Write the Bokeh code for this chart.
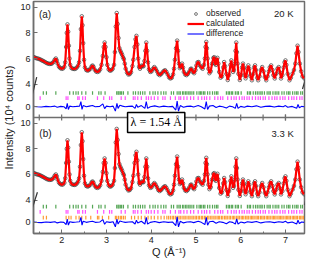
from bokeh.plotting import figure
from bokeh.models import Range1d, FixedTicker, Span, Label, Legend, LegendItem, Arrow
from bokeh.embed import file_html
from bokeh.resources import INLINE

# ---------------- data ----------------
# powder pattern: Q (1/A) and intensity (10^4 counts)
q_obs = [1.37, 1.40, 1.43, 1.46, 1.49, 1.52, 1.55, 1.58, 1.61, 1.64, 1.67, 1.70, 1.73, 1.76, 1.79, 1.82,
         1.845, 1.87, 1.89, 1.91, 1.94, 1.97, 2.00, 2.03, 2.06, 2.08, 2.10, 2.115, 2.13, 2.145, 2.16, 2.175,
         2.19, 2.22, 2.25, 2.28, 2.31, 2.34, 2.37, 2.39, 2.41, 2.43, 2.45, 2.465, 2.48, 2.50, 2.52, 2.55,
         2.58, 2.61, 2.64, 2.67, 2.69, 2.71, 2.74, 2.77, 2.80, 2.83, 2.86, 2.89, 2.92, 2.94, 2.96, 2.98,
         3.00, 3.02, 3.05, 3.08, 3.11, 3.14, 3.17, 3.19, 3.21, 3.23, 3.25, 3.27, 3.29, 3.31, 3.33, 3.35,
         3.37, 3.39, 3.41, 3.43, 3.46, 3.49, 3.52, 3.55, 3.58, 3.60, 3.63, 3.65, 3.67, 3.69, 3.71, 3.73,
         3.75, 3.77, 3.79, 3.81, 3.83, 3.85, 3.87, 3.89, 3.91, 3.93, 3.95, 3.98, 4.01, 4.04, 4.07, 4.10,
         4.13, 4.16, 4.19, 4.22, 4.25, 4.28, 4.31, 4.34, 4.37, 4.40, 4.43, 4.46, 4.49, 4.51, 4.53, 4.555,
         4.58, 4.60, 4.62, 4.64, 4.66, 4.69, 4.71, 4.73, 4.76, 4.79, 4.82, 4.85, 4.88, 4.90, 4.93, 4.96,
         4.99, 5.01, 5.035, 5.06, 5.09, 5.12, 5.15, 5.18, 5.20, 5.215, 5.23, 5.245, 5.26, 5.28, 5.30, 5.33,
         5.36, 5.39, 5.41, 5.43, 5.445, 5.465, 5.48, 5.50, 5.52, 5.55, 5.58, 5.61, 5.63, 5.65, 5.68, 5.71,
         5.74, 5.77, 5.79, 5.81, 5.83, 5.85, 5.87, 5.885, 5.90, 5.915, 5.93, 5.95, 5.98, 6.01, 6.03, 6.05,
         6.07, 6.09, 6.11, 6.13, 6.15, 6.17, 6.19, 6.22, 6.25, 6.28, 6.30, 6.32, 6.34, 6.37, 6.39, 6.42,
         6.45, 6.48, 6.51, 6.54, 6.57, 6.60, 6.63, 6.65, 6.68, 6.71, 6.73, 6.76, 6.79, 6.82, 6.85, 6.88,
         6.90, 6.93, 6.96, 6.98, 7.00, 7.02, 7.05, 7.09, 7.12, 7.16, 7.19, 7.22, 7.245, 7.27, 7.29, 7.32,
         7.35, 7.38, 7.42]
i_obs = [6.12, 6.08, 6.03, 6.00, 5.97, 5.93, 5.87, 5.82, 5.76, 5.70, 5.64, 5.60, 5.58, 5.58, 5.63, 5.74,
         5.90, 6.00, 5.85, 5.60, 5.36, 5.25, 5.20, 5.22, 5.35, 5.70, 6.90, 8.00, 8.67, 8.10, 7.00, 6.00,
         5.50, 5.25, 5.20, 5.18, 5.20, 5.30, 5.45, 5.70, 6.60, 8.30, 9.30, 8.60, 7.20, 5.90, 5.30, 5.10,
         5.05, 5.10, 5.20, 5.38, 5.45, 5.35, 5.12, 4.98, 4.95, 5.00, 5.15, 5.50, 6.20, 6.90, 7.25, 6.90,
         6.10, 5.50, 5.15, 5.05, 5.08, 5.20, 5.50, 6.50, 8.50, 9.56, 8.70, 7.60, 6.80, 6.60, 6.45, 6.30,
         6.10, 5.95, 5.60, 5.20, 4.90, 4.75, 4.78, 4.92, 5.40, 5.90, 6.90, 7.50, 7.77, 7.10, 6.00, 5.35,
         5.20, 5.35, 5.45, 5.40, 5.40, 5.80, 6.60, 7.25, 6.60, 5.70, 5.15, 4.95, 5.00, 5.20, 5.33, 5.20,
         5.00, 4.78, 4.70, 4.78, 4.90, 5.02, 5.08, 4.95, 4.75, 4.52, 4.44, 4.50, 4.75, 5.20, 5.90, 6.80,
         7.40, 6.60, 5.60, 5.25, 5.35, 5.60, 5.30, 4.95, 4.75, 4.70, 4.80, 4.97, 5.18, 5.20, 4.95, 4.85,
         5.10, 5.45, 5.70, 5.72, 5.45, 5.30, 5.20, 5.50, 6.00, 6.90, 7.30, 6.80, 6.00, 5.20, 4.85, 5.00,
         5.60, 6.05, 6.10, 5.60, 5.50, 5.90, 6.05, 5.60, 4.95, 4.50, 4.60, 5.30, 5.72, 5.40, 4.80, 4.32,
         4.70, 5.50, 5.85, 5.40, 4.95, 5.10, 5.60, 6.60, 7.25, 6.50, 5.60, 4.80, 4.32, 4.70, 5.30, 5.60,
         5.30, 4.70, 4.45, 4.70, 5.20, 5.46, 5.20, 4.60, 4.30, 4.80, 5.30, 5.46, 5.10, 4.50, 4.30, 4.60,
         5.10, 5.33, 5.00, 4.55, 4.30, 4.60, 5.00, 5.30, 5.46, 5.10, 4.70, 4.44, 4.80, 5.20, 5.33, 4.90,
         4.44, 4.70, 5.30, 5.70, 5.85, 5.50, 4.80, 4.30, 4.50, 4.82, 5.10, 5.60, 6.40, 7.00, 6.50, 5.60,
         5.00, 4.60, 4.45]

# difference curve (obs - calc), 10^4 counts
q_diff = [1.37, 1.45, 1.55, 1.65, 1.75, 1.85, 1.90, 1.98, 2.05, 2.10, 2.125, 2.15, 2.18, 2.25, 2.33, 2.40,
          2.43, 2.455, 2.48, 2.55, 2.62, 2.69, 2.75, 2.85, 2.92, 2.96, 3.00, 3.08, 3.15, 3.20, 3.235, 3.26,
          3.30, 3.36, 3.42, 3.50, 3.58, 3.64, 3.67, 3.70, 3.78, 3.86, 3.89, 3.92, 3.98, 4.08, 4.18, 4.28,
          4.38, 4.48, 4.55, 4.58, 4.61, 4.65, 4.72, 4.80, 4.88, 4.95, 5.05, 5.12, 5.20, 5.23, 5.26, 5.30,
          5.38, 5.45, 5.52, 5.60, 5.68, 5.75, 5.82, 5.88, 5.91, 5.94, 6.00, 6.08, 6.15, 6.25, 6.35, 6.45,
          6.55, 6.65, 6.75, 6.85, 6.95, 7.00, 7.05, 7.15, 7.25, 7.28, 7.31, 7.36, 7.42]
v_diff = [0.05, 0.00, -0.05, 0.05, 0.00, 0.10, -0.10, 0.05, 0.00, -0.40, 0.60, -0.50, 0.10, 0.00, 0.05, 0.10,
          0.90, -0.50, 0.20, 0.00, 0.10, 0.20, 0.00, 0.05, 0.50, -0.35, 0.10, 0.00, 0.10, -0.80, 0.60, -0.30,
          0.25, 0.10, 0.00, 0.05, 0.10, -0.30, 0.40, -0.10, 0.20, -0.30, 0.90, -0.30, 0.00, 0.15, -0.05, 0.10,
          0.00, 0.05, -0.60, 1.00, -0.80, 0.20, -0.10, 0.05, 0.10, -0.05, 0.20, 0.00, -0.40, 0.90, -0.50, 0.10,
          0.20, -0.15, 0.10, 0.00, -0.25, 0.10, 0.00, -0.30, 0.60, -0.30, 0.05, -0.10, 0.10, 0.00, 0.15, -0.10,
          0.05, 0.10, -0.05, 0.10, 0.00, 0.20, -0.10, 0.05, -0.30, 0.40, -0.20, 0.05, 0.00]

# Bragg reflection positions (Q)
green_q = [1.59, 1.66, 1.87, 2.18, 2.26, 2.32, 2.37, 2.45, 2.54, 2.69, 2.83, 2.88, 2.97, 3.23, 3.26, 3.28,
           3.31, 3.34, 3.38, 3.48, 3.60, 3.65, 3.71, 3.76, 3.81, 3.86, 3.97, 4.04, 4.09, 4.15, 4.22, 4.28,
           4.33, 4.45, 4.50, 4.58, 4.62, 4.65, 4.70, 4.73, 4.77, 4.80, 4.84, 4.87, 4.91, 4.95, 5.02, 5.07,
           5.10, 5.13, 5.17, 5.20, 5.26, 5.31, 5.37, 5.42, 5.46, 5.49, 5.68, 5.72, 5.75, 5.79, 5.82, 5.88,
           5.92, 5.95, 6.01, 6.15, 6.19, 6.22, 6.28, 6.33, 6.37, 6.41, 6.45, 6.48, 6.53, 6.59, 6.63, 6.66,
           6.72, 6.77, 6.81, 6.85, 6.92, 6.97, 7.03, 7.07, 7.10, 7.16, 7.21, 7.25, 7.28, 7.34, 7.38]
magenta_q = [1.52, 2.10, 2.14, 2.36, 2.39, 2.47, 2.53, 2.80, 2.94, 3.07, 3.12, 3.33, 3.42, 3.60, 3.64, 3.70,
             3.78, 3.89, 3.94, 4.00, 4.07, 4.15, 4.26, 4.31, 4.43, 4.54, 4.62, 4.66, 4.73, 4.80, 4.88, 4.95,
             5.05, 5.13, 5.19, 5.24, 5.31, 5.42, 5.49, 5.55, 5.60, 5.71, 5.79, 5.85, 5.90, 5.97, 6.03, 6.08,
             6.14, 6.19, 6.26, 6.33, 6.39, 6.44, 6.50, 6.55, 6.63, 6.70, 6.76, 6.81, 6.88, 6.94, 6.99, 7.07,
             7.14, 7.19, 7.25, 7.32, 7.37]
orange_q = [1.59, 1.66, 2.10, 2.16, 2.21, 2.32, 2.39, 2.45, 2.54, 2.65, 2.80, 2.83, 2.91, 3.05, 3.20, 3.23,
            3.27, 3.31, 3.34, 3.38, 3.42, 3.56, 3.63, 3.71, 3.78, 3.86, 3.93, 4.00, 4.07, 4.15, 4.22, 4.29,
            4.35, 4.39, 4.43, 4.47, 4.50, 4.54, 4.58, 4.62, 4.65, 4.69, 4.73, 4.76, 4.80, 4.84, 4.87, 4.91,
            4.94, 4.98, 5.01, 5.05, 5.08, 5.12, 5.15, 5.19, 5.22, 5.26, 5.29, 5.33, 5.36, 5.40, 5.43, 5.47,
            5.50, 5.53, 5.57, 5.60, 5.64, 5.67, 5.70, 5.74, 5.77, 5.81, 5.84, 5.87, 5.91, 5.94, 5.97, 6.01,
            6.04, 6.07, 6.11, 6.14, 6.17, 6.21, 6.24, 6.27, 6.30, 6.34, 6.37, 6.40, 6.44, 6.47, 6.50, 6.53,
            6.57, 6.60, 6.63, 6.66, 6.70, 6.73, 6.76, 6.79, 6.83, 6.86, 6.89, 6.92, 6.95, 6.99, 7.02, 7.05,
            7.08, 7.11, 7.15, 7.18, 7.21, 7.24, 7.27, 7.31, 7.34, 7.37, 7.40]

x_ticks = [2, 3, 4, 5, 6, 7]
x_minor = [1.5, 2.5, 3.5, 4.5, 5.5, 6.5, 7.0]
y_tick_values = [10, 8, 6, 4]
y_zero = [0]

# ---------------- layout ----------------
AX = "#6e6e6e"
H = 236.0  # frame height in reference pixel units
ranges = {
    "a_hi": Range1d(-7.69, 10.46),
    "a_lo": Range1d(-22.75, 18.87),
    "b_hi": Range1d(1.38, 19.53),
    "b_lo": Range1d(-2.0, 39.62),
}


def pos(v, name):
    r = ranges[name]
    return round((v - r.start) / (r.end - r.start) * H, 3)


def refx(px):  # reference pixel -> Q (decorations only)
    return 2 + (px - 64.7) / 45.6


p = figure(width=310, height=260, output_backend="svg", toolbar_location=None,
           x_range=Range1d(1.371, 7.425), y_range=Range1d(0, H),
           min_border_left=28, min_border_right=6, min_border_top=1, min_border_bottom=27)
p.extra_y_ranges = ranges
p.xgrid.visible = False
p.ygrid.visible = False
p.outline_line_color = AX
p.outline_line_width = 1.5
p.background_fill_color = "white"
p.border_fill_color = "white"

# axes
p.xaxis.ticker = FixedTicker(ticks=x_ticks, minor_ticks=x_minor)
p.xaxis.axis_label = "Q (Å⁻¹)"
p.yaxis.axis_label = "Intensity (10⁴ counts)"
yt = []
yl = {}
for pn in ("a", "b"):
    for v in y_tick_values:
        t = pos(v, pn + "_hi")
        yt.append(t)
        yl[t] = str(v)
    for v in y_zero:
        t = pos(v, pn + "_lo")
        yt.append(t)
        yl[t] = str(v)
p.yaxis.ticker = FixedTicker(ticks=sorted(yt), minor_ticks=[])
p.yaxis.major_label_overrides = yl
for ax in (p.xaxis, p.yaxis):
    ax.axis_line_color = AX
    ax.axis_line_width = 1.5
    ax.major_tick_line_color = AX
    ax.minor_tick_line_color = AX
    ax.major_tick_in = 4
    ax.major_tick_out = 0
    ax.minor_tick_in = 2
    ax.minor_tick_out = 0
    ax.major_label_text_font = "Liberation Sans"
    ax.major_label_text_font_size = "9px"
    ax.major_label_text_color = "#222222"
    ax.axis_label_text_font = "Liberation Sans"
    ax.axis_label_text_font_size = "11px"
    ax.axis_label_text_font_style = "normal"
    ax.axis_label_text_color = "#222222"
p.xaxis.major_label_standoff = 3
p.xaxis.axis_label_standoff = 0
p.yaxis.major_label_standoff = 3
p.yaxis.axis_label_standoff = 2

# boundary between the panels
mid = H / 2
p.add_layout(Span(location=mid, dimension="width", line_color=AX, line_width=1.5))
mt = x_ticks + x_minor
p.segment(x0=mt, x1=mt, y0=[mid - 3] * len(mt), y1=[mid + 3] * len(mt), line_color=AX, line_width=1.2)

# panels
GREEN = "#55a655"
MAG = "#ff4dff"
ORANGE = "#ff9a33"
panels = {
    "a": {"rows": [(green_q, GREEN, 2.46), (magenta_q, MAG, 1.53)]},
    "b": {"rows": [(green_q, GREEN, 2.81), (magenta_q, MAG, 1.88), (orange_q, ORANGE, 0.85)]},
}
rend = {}
for pn, cfg in panels.items():
    for qs, col, row in cfg["rows"]:
        n = len(qs)
        p.segment(x0=qs, x1=qs, y0=[row - 0.33] * n, y1=[row + 0.33] * n,
                  y_range_name=pn + "_lo", line_color=col, line_width=1.2)
    d = p.line(q_diff, v_diff, y_range_name=pn + "_lo", line_color="#0000ff", line_width=1.1)
    o = p.scatter(q_obs, i_obs, y_range_name=pn + "_hi", marker="circle", size=3.6,
                  fill_color=None, line_color="#3c3c3c", line_width=0.7)
    c = p.line(q_obs, i_obs, y_range_name=pn + "_hi", line_color="#ff0000", line_width=2.2)
    rend[pn] = (o, c, d)

# axis-break marks (decorations)
for (x0, y0, x1, y1) in [(39.3, 82, 34.3, 102), (40, 199, 32, 224),
                          (314, 81, 310, 94), (316, 197, 312, 212)]:
    p.add_layout(Arrow(end=None, start=None, x_start=refx(x0), y_start=241 - y0,
                       x_end=refx(x1), y_end=241 - y1, line_color="#333333", line_width=1.2))

# texts
lab_kw = dict(text_font="Liberation Sans", text_color="#222222", text_baseline="middle")
p.add_layout(Label(x=refx(41.5), y=9.48, y_range_name="a_hi", text="(a)", text_font_size="10px", **lab_kw))
p.add_layout(Label(x=refx(281), y=9.56, y_range_name="a_hi", text="20 K", text_font_size="9.5px", **lab_kw))
p.add_layout(Label(x=refx(42), y=9.23, y_range_name="b_hi", text="(b)", text_font_size="10px", **lab_kw))
p.add_layout(Label(x=refx(278.5), y=9.23, y_range_name="b_hi", text="3.3 K", text_font_size="9.5px", **lab_kw))
p.add_layout(Label(x=refx(161), y=241 - 128, text="λ = 1.54 Å", text_align="center", text_baseline="middle",
                   text_font="Liberation Serif", text_font_size="12px", text_color="black",
                   border_line_color="black", border_line_width=1.5, background_fill_color="white",
                   padding=3))

o, c, d = rend["a"]
legend = Legend(items=[LegendItem(label="observed", renderers=[o]),
                       LegendItem(label="calculated", renderers=[c]),
                       LegendItem(label="difference", renderers=[d])],
                location=(154, 195), orientation="vertical",
                label_text_font="Liberation Sans", label_text_font_size="8.5px", label_text_color="#222222",
                glyph_width=17, glyph_height=7, label_height=7, label_standoff=2,
                spacing=-2, padding=0, margin=0, border_line_color=None, background_fill_alpha=0)
p.add_layout(legend)

open("out.html", "w").write(file_html(p, INLINE))
